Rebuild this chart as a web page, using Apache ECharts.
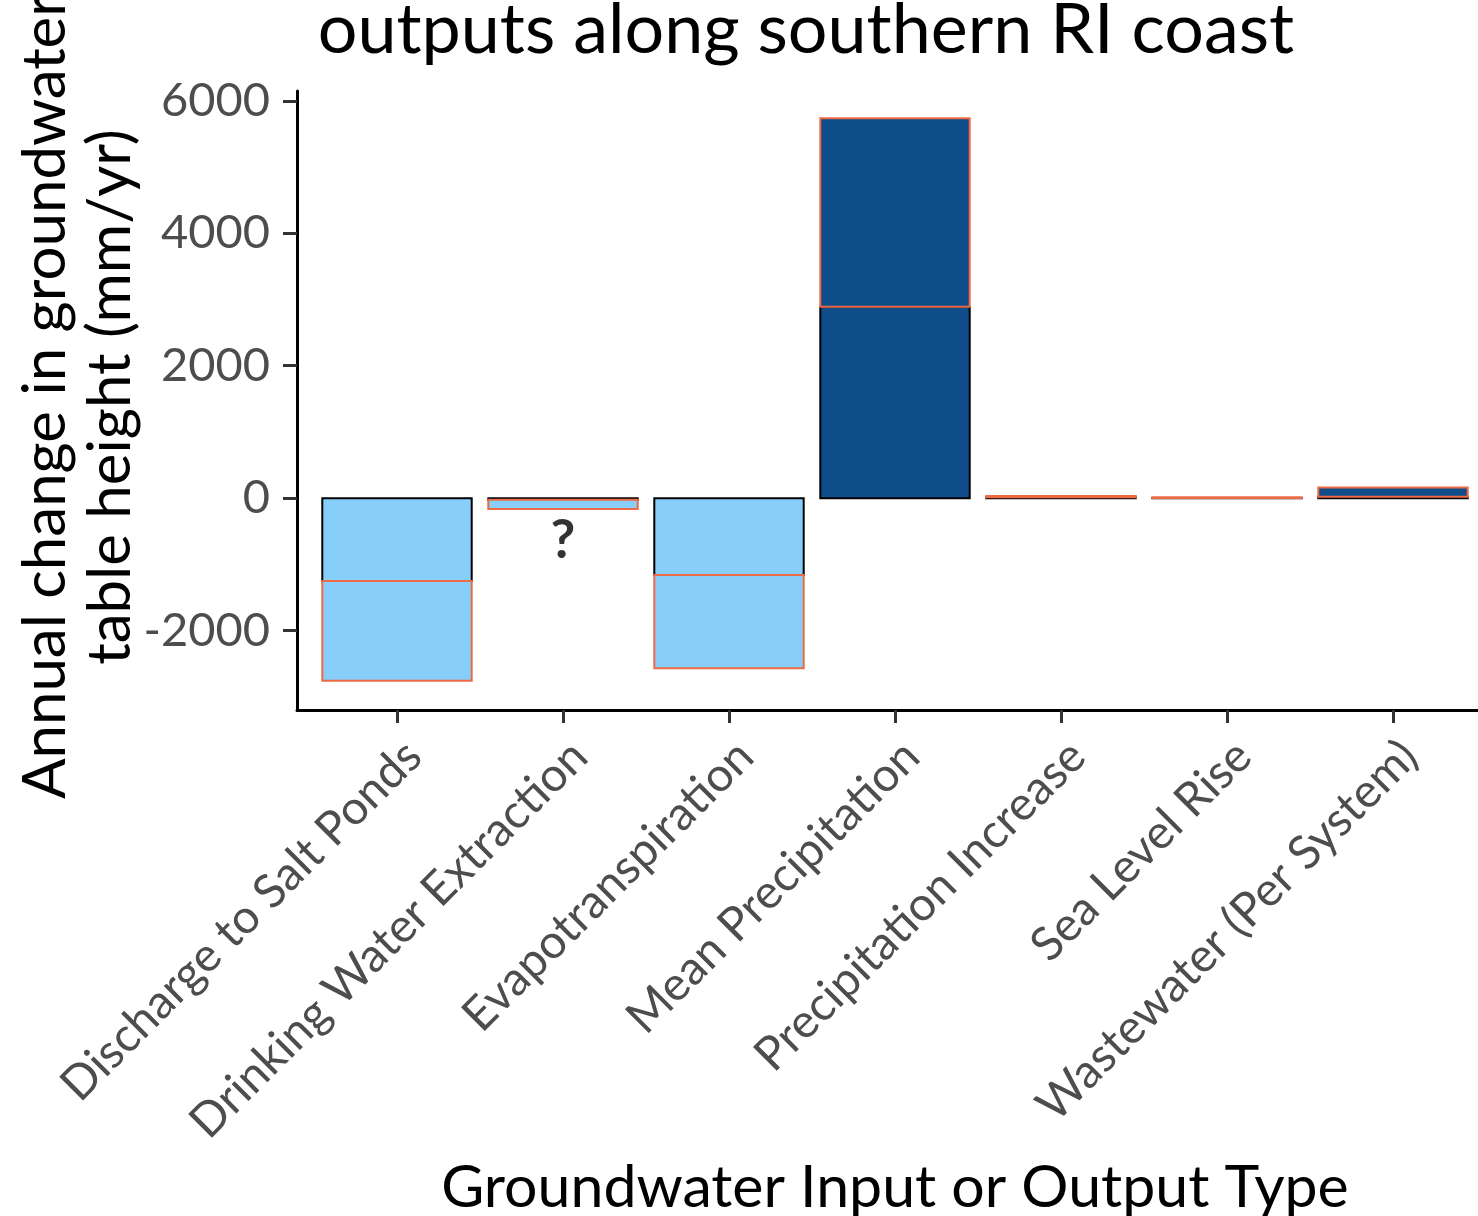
<!DOCTYPE html>
<html>
<head>
<meta charset="utf-8">
<script src="https://cdn.jsdelivr.net/npm/echarts@6/dist/echarts.min.js"></script>
<style>
  html, body { margin: 0; padding: 0; background: #ffffff; }
  #chart { width: 1478px; height: 1216px; }
</style>
</head>
<body>
<div id="chart"></div>
<script>
// Groundwater budget terms (mm/yr); each term has a lower and an upper part stacked
const categories = [
  'Discharge to Salt Ponds',
  'Drinking Water Extraction',
  'Evapotranspiration',
  'Mean Precipitation',
  'Precipitation Increase',
  'Sea Level Rise',
  'Wastewater (Per System)'
];
const lowerPart = [-1250, -25, -1160, 2890, 12, 4, 22];
const upperPart = [-1510, -140, -1410, 2850, 22, 8, 140];
const yTicks = [-2000, 0, 2000, 4000, 6000];
const unknownMark = ['Drinking Water Extraction', -640];

const outputFill = '#87CEFA';
const inputFill = '#0F4C8A';
const lowerEdge = '#000000';
const upperEdge = '#EC6B45';

const Y_MIN = -3200;
const Y_MAX = 6150;

// stacked segments: [category index, segment start, segment end]
const lowerSegs = lowerPart.map((v, i) => [i, 0, v]);
const upperSegs = upperPart.map((v, i) => [i, lowerPart[i], lowerPart[i] + v]);

// rectangle outlined on its true edges, so a later segment's edge covers the shared boundary
const segmentRenderer = edge => (params, api) => {
  const i = api.value(0);
  const a = api.coord([i, api.value(1)]);
  const b = api.coord([i, api.value(2)]);
  const w = api.size([1, 0])[0] * 0.9;
  const end = api.value(2);
  return {
    type: 'rect',
    shape: { x: a[0] - w / 2, y: Math.min(a[1], b[1]), width: w, height: Math.abs(a[1] - b[1]) },
    style: { fill: end < 0 ? outputFill : inputFill, stroke: edge, lineWidth: 2 }
  };
};

const font = 'Lato, "Noto Sans", sans-serif';
const chart = echarts.init(document.getElementById('chart'), null, { renderer: 'canvas' });

chart.setOption({
  animation: false,
  backgroundColor: '#ffffff',
  // grid 0 holds the panel frame (axis lines + y scale), grid 1 holds the bars
  grid: [
    { left: 297, top: 91, width: 1197, height: 619, containLabel: false },
    { left: 314, top: 91, width: 1162, height: 619, containLabel: false }
  ],
  xAxis: [
    {
      gridIndex: 0,
      type: 'value',
      min: 0,
      max: 1,
      splitLine: { show: false },
      axisLine: { show: true, onZero: false, lineStyle: { color: '#000', width: 3 } },
      axisTick: { show: false },
      axisLabel: { show: false }
    },
    {
      gridIndex: 1,
      type: 'category',
      data: categories,
      boundaryGap: true,
      axisLine: { show: false, onZero: false },
      axisTick: { show: true, alignWithLabel: true, length: 13, lineStyle: { color: '#333', width: 3 } },
      axisLabel: {
        interval: 0,
        rotate: 45,
        margin: 22,
        verticalAlign: 'top',
        color: '#4D4D4D',
        fontFamily: font,
        fontSize: 47
      }
    }
  ],
  yAxis: [
    {
      gridIndex: 0,
      type: 'value',
      min: Y_MIN,
      max: Y_MAX,
      splitLine: { show: false },
      axisLine: { show: true, onZero: false, lineStyle: { color: '#000', width: 3 } },
      axisTick: { show: true, length: 14, lineStyle: { color: '#333', width: 3 }, customValues: yTicks },
      axisLabel: {
        customValues: yTicks,
        formatter: v => String(v),
        margin: 27,
        color: '#4D4D4D',
        fontFamily: font,
        fontSize: 47
      }
    },
    {
      gridIndex: 1,
      type: 'value',
      min: Y_MIN,
      max: Y_MAX,
      show: false
    }
  ],
  series: [
    {
      name: 'lower',
      type: 'custom',
      xAxisIndex: 1,
      yAxisIndex: 1,
      z: 2,
      encode: { x: 0, y: [1, 2] },
      renderItem: segmentRenderer(lowerEdge),
      data: lowerSegs
    },
    {
      name: 'upper',
      type: 'custom',
      xAxisIndex: 1,
      yAxisIndex: 1,
      z: 3,
      encode: { x: 0, y: [1, 2] },
      renderItem: segmentRenderer(upperEdge),
      data: upperSegs
    },
    {
      name: 'unknown',
      type: 'scatter',
      xAxisIndex: 1,
      yAxisIndex: 1,
      symbolSize: 0,
      silent: true,
      z: 4,
      label: {
        show: true,
        position: 'inside',
        formatter: '?',
        color: '#000',
        fontWeight: 'bold',
        fontFamily: font,
        fontSize: 54
      },
      data: [unknownMark]
    }
  ],
  graphic: [
    {
      type: 'text',
      x: 806,
      y: 30,
      style: {
        text: 'outputs along southern RI coast',
        fill: '#000',
        font: '70px ' + font,
        align: 'center',
        verticalAlign: 'middle'
      }
    },
    {
      type: 'text',
      x: 78,
      y: 397,
      rotation: Math.PI / 2,
      style: {
        text: 'Annual change in groundwater\ntable height (mm/yr)',
        fill: '#000',
        font: '60px ' + font,
        align: 'center',
        verticalAlign: 'middle',
        lineHeight: 65
      }
    },
    {
      type: 'text',
      x: 895,
      y: 1188,
      style: {
        text: 'Groundwater Input or Output Type',
        fill: '#000',
        font: '59px ' + font,
        align: 'center',
        verticalAlign: 'middle'
      }
    }
  ]
});
</script>
</body>
</html>
